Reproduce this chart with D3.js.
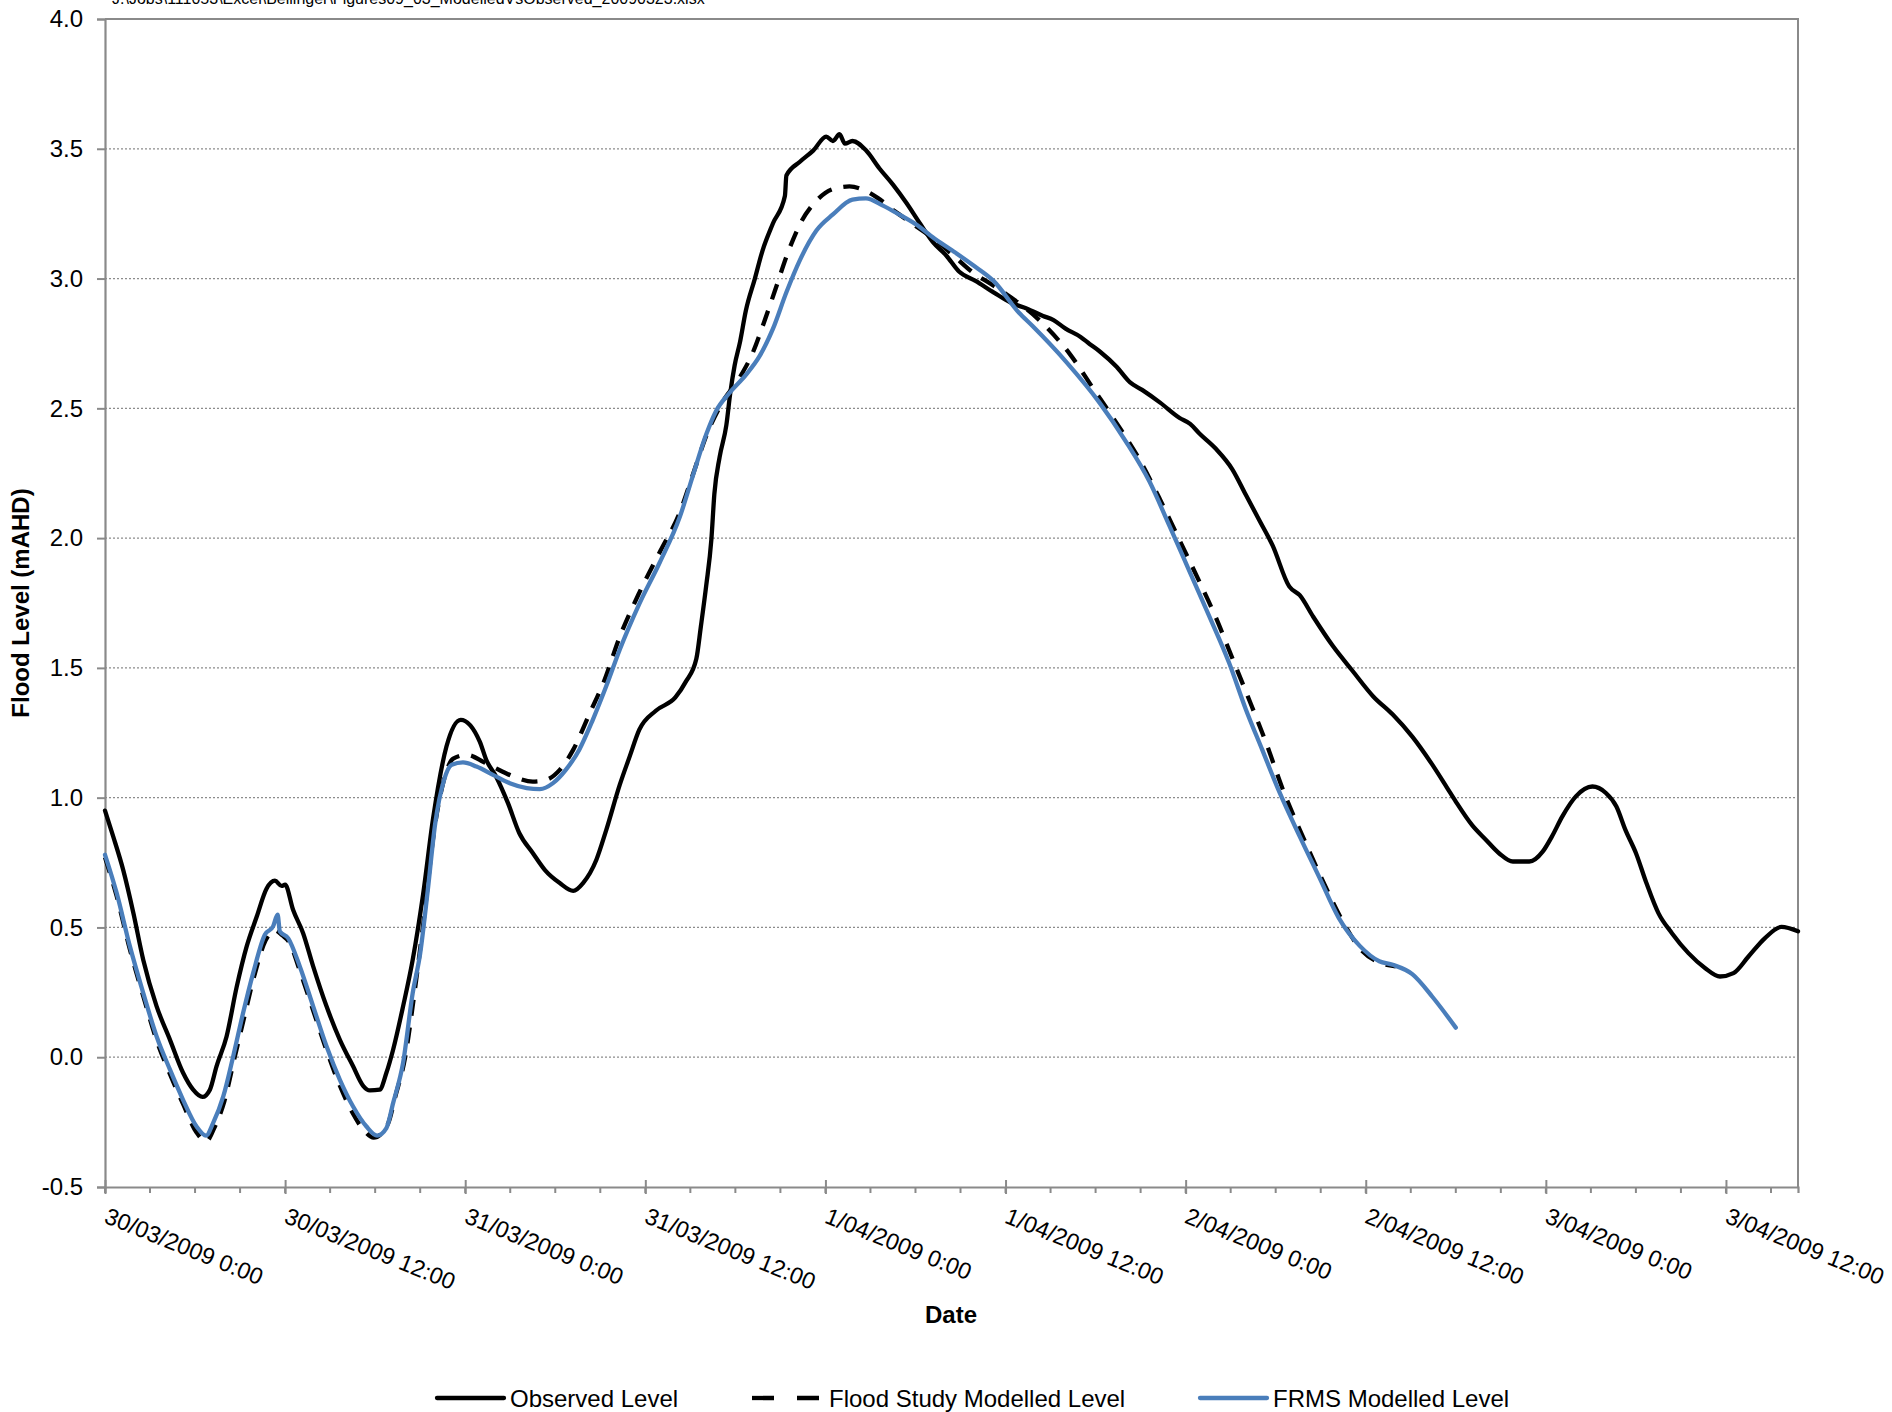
<!DOCTYPE html>
<html>
<head>
<meta charset="utf-8">
<script src="https://cdn.jsdelivr.net/npm/d3@7"></script>
<style>
  body { margin: 0; background: #fff; }
  svg { display: block; font-family: "Liberation Sans", Arial, sans-serif; }
</style>
</head>
<body>
<div id="chart"></div>
<script>
/* Flood level hydrograph: observed vs modelled (hours from 30/03/2009 0:00) */

const obsHours = [0, 0.55, 1.22, 1.89, 2.55, 3.44, 4.33, 5.2, 5.87, 6.5, 6.99, 7.43, 8.1, 8.77, 9.44, 10.1, 10.77, 11.32, 11.77, 12.0,
  12.53, 13.2, 13.87, 14.76, 15.65, 16.53, 17.2, 17.65, 18.3, 18.75, 19.2, 19.86, 20.5, 21.2, 21.86, 22.75, 23.7, 24.97, 25.4, 26.07,
  26.85, 27.6, 28.5, 29.3, 30.3, 31.2, 31.85, 32.74, 33.4, 34.3, 34.96, 35.6, 36.7, 38.0, 38.7, 39.4, 39.7, 40.06, 40.4, 40.6,
  40.95, 41.4, 41.66, 41.95, 42.3, 42.7, 43.3, 43.8, 44.5, 45.3, 45.4, 46.3, 47.2, 48.05, 48.5, 48.94, 49.3, 49.8, 50.7, 51.6, 52.5, 53.4,
  54.3, 55.15, 56.05, 56.9, 58.0, 59.2, 60.5, 61.4, 62.5, 63.2, 64.0, 65.0, 65.6, 66.3, 67.4, 68.3, 69.1, 70.3, 71.6, 72.3, 72.9, 74.0, 75.1,
  76.0, 76.9, 77.8, 78.9, 79.6, 80.5, 81.8, 83.1, 84.5, 85.8, 87.1, 88.4, 89.4, 90.0, 91.1, 92.0, 92.9, 93.8, 94.9, 95.8,
  96.4, 97.1, 98.0, 99.1, 100.0, 100.7, 101.3, 102.0, 102.7, 103.5, 104.4, 105.5, 106.6, 107.6, 108.5, 109.5, 110.6, 111.7, 112.8];
const obsLevel = [0.95, 0.85, 0.72, 0.556, 0.375, 0.196, 0.067, -0.06, -0.125, -0.153, -0.125, -0.035, 0.08, 0.27, 0.427, 0.54, 0.65, 0.68, 0.66, 0.665,
  0.568, 0.478, 0.35, 0.196, 0.067, -0.035, -0.11, -0.128, -0.125, -0.06, 0.03, 0.196, 0.375, 0.63, 0.92, 1.197, 1.30, 1.216, 1.146, 1.08,
  0.979, 0.864, 0.787, 0.722, 0.671, 0.641, 0.671, 0.761, 0.876, 1.05, 1.159, 1.262, 1.335, 1.386, 1.447, 1.535, 1.659, 1.818, 1.994, 2.17,
  2.312, 2.436, 2.559, 2.665, 2.753, 2.877, 3.0, 3.106, 3.212, 3.318, 3.397, 3.45, 3.494, 3.547, 3.53, 3.556, 3.52, 3.53, 3.494, 3.424, 3.362, 3.291,
  3.212, 3.141, 3.089, 3.027, 2.991, 2.947, 2.903, 2.885, 2.856, 2.84, 2.807, 2.775, 2.748, 2.718, 2.66, 2.60, 2.571, 2.522, 2.463, 2.44, 2.404, 2.345, 2.266,
  2.168, 2.07, 1.971, 1.814, 1.78, 1.697, 1.585, 1.49, 1.39, 1.32, 1.235, 1.13, 1.04, 0.985, 0.893, 0.838, 0.785, 0.754, 0.754, 0.793,
  0.85, 0.928, 1.005, 1.043, 1.018, 0.966, 0.876, 0.787, 0.671, 0.555, 0.478, 0.401, 0.344, 0.311, 0.324, 0.388, 0.459, 0.502, 0.485];

const fsHours = [0, 0.78, 1.66, 2.55, 3.44, 4.33, 5.2, 6.1, 6.73, 7.3, 7.95, 8.6, 9.3, 9.95, 10.7, 11.3, 11.8, 12.3, 13.0, 13.9,
  14.8, 15.65, 16.5, 17.3, 17.9, 18.4, 18.9, 19.35, 20.0, 20.6, 21.3, 21.9, 22.5, 23.2, 24.1, 25.3, 26.5, 27.5, 28.5, 29.4,
  30.3, 31.2, 32.3, 33.2, 34.3, 35.6, 37.0, 38.3, 39.2, 40.1, 41.1, 42.3, 43.2, 43.9, 44.6, 45.5, 46.4, 47.4, 48.5, 49.6,
  50.6, 51.5, 52.6, 53.7, 55.3, 56.6, 57.9, 59.0, 60.3, 62.5, 64.3, 65.8, 67.4, 68.9, 70.3, 71.6, 72.9, 74.0, 75.1, 76.2,
  77.4, 78.5, 79.8, 81.1, 82.5, 83.6, 84.9, 86.0];
const fsLevel = [0.77, 0.62, 0.415, 0.235, 0.065, -0.065, -0.18, -0.29, -0.325, -0.27, -0.17, -0.01, 0.16, 0.315, 0.45, 0.49, 0.47, 0.44, 0.33, 0.175,
  0.02, -0.11, -0.215, -0.285, -0.31, -0.295, -0.25, -0.15, 0.0, 0.24, 0.56, 0.86, 1.05, 1.15, 1.165, 1.135, 1.10, 1.075, 1.062, 1.069,
  1.107, 1.185, 1.326, 1.441, 1.62, 1.79, 1.95, 2.10, 2.25, 2.40, 2.52, 2.62, 2.72, 2.83, 2.947, 3.10, 3.22, 3.30, 3.345, 3.355,
  3.34, 3.31, 3.26, 3.215, 3.15, 3.085, 3.02, 2.98, 2.93, 2.826, 2.708, 2.58, 2.443, 2.305, 2.148, 1.991, 1.834, 1.696, 1.539, 1.382,
  1.205, 1.028, 0.851, 0.684, 0.52, 0.42, 0.365, 0.35];

const frmsHours = [0, 0.78, 1.66, 2.55, 3.44, 4.33, 5.2, 6.1, 6.73, 7.2, 7.88, 8.54, 9.2, 9.87, 10.65, 11.2, 11.5, 11.65, 12.2, 12.98,
  13.87, 14.76, 15.65, 16.53, 17.42, 18.13, 18.75, 19.2, 19.86, 20.5, 21.0, 21.5, 22.0, 22.6, 23.1, 23.85, 24.75, 25.85, 26.97, 28.1,
  28.97, 29.85, 30.7, 31.6, 32.5, 33.4, 34.3, 35.6, 36.96, 38.3, 39.17, 40.06, 40.7, 41.6, 42.7, 43.6, 44.5, 45.4, 46.3, 47.4,
  48.5, 49.8, 50.7, 51.8, 52.9, 54.3, 55.15, 56.5, 57.8, 59.2, 60.9, 61.8, 64.04, 66.26, 68.0, 69.6, 70.9, 72.25, 73.6, 74.9,
  76.0, 77.1, 78.2, 79.6, 80.9, 82.2, 83.6, 84.9, 85.8, 87.1, 88.45, 90.0];
const frmsLevel = [0.78, 0.632, 0.427, 0.247, 0.08, -0.048, -0.164, -0.267, -0.302, -0.254, -0.151, 0.003, 0.17, 0.324, 0.472, 0.504, 0.549, 0.485, 0.459, 0.35,
  0.196, 0.042, -0.087, -0.19, -0.267, -0.302, -0.273, -0.176, -0.022, 0.247, 0.40, 0.64, 0.90, 1.07, 1.127, 1.136, 1.12, 1.088, 1.056, 1.037,
  1.033, 1.056, 1.107, 1.185, 1.30, 1.43, 1.571, 1.747, 1.906, 2.082, 2.241, 2.40, 2.488, 2.559, 2.629, 2.70, 2.806, 2.947, 3.071, 3.185,
  3.247, 3.304, 3.309, 3.282, 3.247, 3.198, 3.159, 3.106, 3.053, 2.991, 2.868, 2.817, 2.679, 2.522, 2.374, 2.217, 2.05, 1.873, 1.696, 1.519,
  1.342, 1.185, 1.028, 0.851, 0.694, 0.537, 0.429, 0.37, 0.356, 0.32, 0.232, 0.114];

const yTicks = [-0.5, 0, 0.5, 1.0, 1.5, 2.0, 2.5, 3.0, 3.5, 4.0];
const seriesNames = ["Observed Level", "Flood Study Modelled Level", "FRMS Modelled Level"];
const seriesColors = ["#000000", "#000000", "#4a7ebb"];
const seriesDash = [null, "16,12", null];
const axisMaxHours = 112.8;

const W = 1892, H = 1412;
const margin = { top: 19, right: 94, bottom: 225, left: 105 };
const plotW = W - margin.left - margin.right;
const plotH = H - margin.top - margin.bottom;
const FONT = "24px";
const TICK_FONT = "23.3px";

const t0 = Date.UTC(2009, 2, 30);
const toDate = h => new Date(t0 + h * 36e5);

const svg = d3.select("#chart").append("svg")
  .attr("width", W).attr("height", H)
  .attr("viewBox", `0 0 ${W} ${H}`);

/* file path caption, clipped by the top edge as in the source figure */
svg.append("text").attr("x", 112).attr("y", 4)
  .style("font-size", "16px").style("fill", "#000")
  .text("J:\\Jobs\\111053\\Excel\\Bellinger\\Figures09_03_ModelledVsObserved_20090323.xlsx");

const g = svg.append("g").attr("transform", `translate(${margin.left},${margin.top})`);

const x = d3.scaleUtc().domain([toDate(0), toDate(axisMaxHours)]).range([0, plotW]);
const y = d3.scaleLinear().domain([-0.5, 4]).range([plotH, 0]);

/* dotted horizontal gridlines */
g.append("g").selectAll("line").data(yTicks.filter(d => d > -0.5)).enter().append("line")
  .attr("x1", 0).attr("x2", plotW)
  .attr("y1", d => y(d)).attr("y2", d => y(d))
  .attr("stroke", "#8c8c8c").attr("stroke-width", 1.3).attr("stroke-dasharray", "2,2");

/* plot-area border on top and right */
g.append("path")
  .attr("d", `M0,${y(4)}H${plotW}V${plotH}`)
  .attr("fill", "none").attr("stroke", "#8a8a8a").attr("stroke-width", 2);

/* y axis */
const yAxis = g.append("g")
  .call(d3.axisLeft(y).tickValues(yTicks).tickSize(8).tickPadding(14).tickFormat(d => d.toFixed(1)));
yAxis.select(".domain").attr("stroke", "#8a8a8a").attr("stroke-width", 2.2);
yAxis.selectAll(".tick line").attr("stroke", "#8a8a8a").attr("stroke-width", 2);
yAxis.selectAll("text").style("font-size", FONT).style("fill", "#000")
  .style("font-family", "'Liberation Sans', Arial, sans-serif");

/* x axis: minor ticks every 3 h, major every 12 h */
const minorTicks = d3.utcHour.every(3).range(toDate(0), toDate(axisMaxHours + 0.01));
g.append("g").selectAll("line").data(minorTicks).enter().append("line")
  .attr("x1", d => x(d)).attr("x2", d => x(d))
  .attr("y1", plotH).attr("y2", plotH + 6)
  .attr("stroke", "#8a8a8a").attr("stroke-width", 2);

const fmt = d3.utcFormat("%-d/%m/%Y %-H:%M");
const xAxis = g.append("g").attr("transform", `translate(0,${plotH})`)
  .call(d3.axisBottom(x).ticks(d3.utcHour.every(12)).tickSize(6).tickFormat(fmt));
xAxis.select(".domain").attr("stroke", "#8a8a8a").attr("stroke-width", 2.2);
xAxis.selectAll(".tick line").attr("y1", -7).attr("y2", 7)
  .attr("stroke", "#8a8a8a").attr("stroke-width", 2);
xAxis.selectAll(".tick text")
  .attr("y", 0).attr("x", 0).attr("dy", "0.75em")
  .attr("text-anchor", "start")
  .attr("transform", "translate(4,19) rotate(22)")
  .style("font-size", TICK_FONT).style("fill", "#000")
  .style("font-family", "'Liberation Sans', Arial, sans-serif");

/* axis titles */
svg.append("text")
  .attr("transform", `translate(21,${margin.top + plotH / 2}) rotate(-90)`)
  .attr("text-anchor", "middle").attr("dy", "0.35em")
  .style("font-size", FONT).style("font-weight", "bold").style("fill", "#000")
  .text("Flood Level (mAHD)");

svg.append("text")
  .attr("x", 951).attr("y", 1323)
  .attr("text-anchor", "middle")
  .style("font-size", FONT).style("font-weight", "bold").style("fill", "#000")
  .text("Date");

/* series */
const seriesData = [
  d3.zip(obsHours, obsLevel),
  d3.zip(fsHours, fsLevel),
  d3.zip(frmsHours, frmsLevel)
];
const line = d3.line()
  .x(d => x(toDate(d[0])))
  .y(d => y(d[1]))
  .curve(d3.curveMonotoneX);

seriesData.forEach((pts, i) => {
  g.append("path").datum(pts)
    .attr("d", line)
    .attr("fill", "none")
    .attr("stroke", seriesColors[i])
    .attr("stroke-width", 4.3)
    .attr("stroke-linejoin", "round")
    .attr("stroke-linecap", i === 1 ? "butt" : "round")
    .attr("stroke-dasharray", seriesDash[i]);
});

/* legend along the bottom */
const legendX = [437, 750, 1200];
const legY = 1398;
seriesNames.forEach((name, i) => {
  const lg = svg.append("g").attr("transform", `translate(${legendX[i]},${legY})`);
  lg.append("line").attr("x1", 0).attr("x2", 67).attr("y1", 0).attr("y2", 0)
    .attr("stroke", seriesColors[i]).attr("stroke-width", 4.3)
    .attr("stroke-linecap", i === 1 ? "butt" : "round")
    .attr("stroke-dasharray", i === 1 ? "22,23" : null)
    .attr("transform", i === 1 ? "translate(2,0)" : null);
  lg.append("text").attr("x", i === 1 ? 79 : 73).attr("y", 0).attr("dy", "0.36em")
    .style("font-size", FONT).style("fill", "#000")
    .text(name);
});
</script>
</body>
</html>
